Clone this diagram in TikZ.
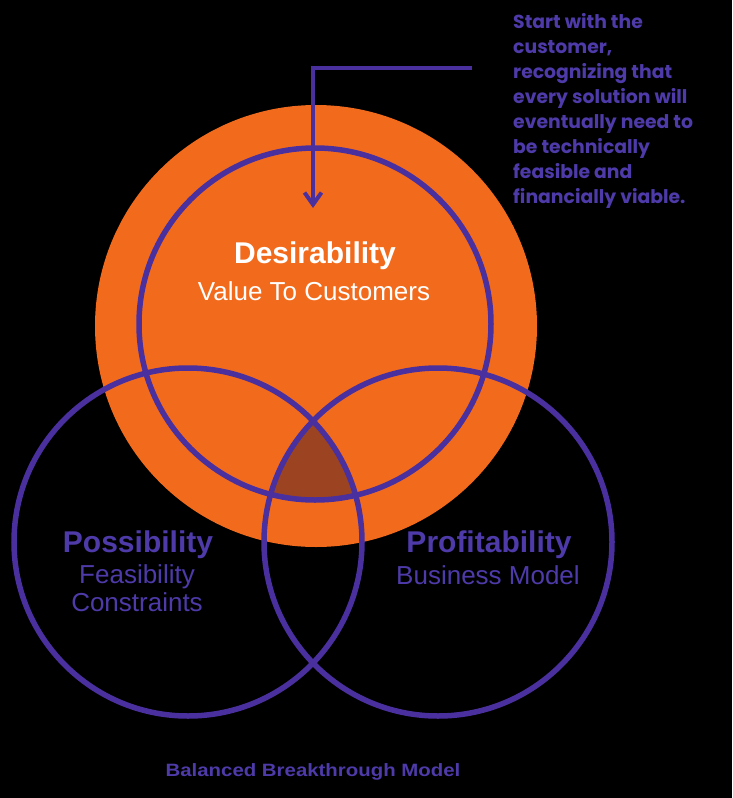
\documentclass[tikz,border=0pt]{standalone}
\usepackage{fontspec}
\setmainfont{Liberation Sans}
\newfontfamily\popfont{Poppins}
\usetikzlibrary{arrows.meta}
\definecolor{bgblack}{RGB}{0,0,0}
\definecolor{vorange}{RGB}{242,107,29}
\definecolor{vbrown}{RGB}{156,68,34}
\definecolor{vpurple}{RGB}{74,48,158}
\definecolor{vtext}{RGB}{78,58,168}
\tikzset{
  ring/.style={draw=vpurple, line width=5.5pt},
  lead/.style={draw=vpurple, line width=4pt, -{Straight Barb[length=12pt,width=17pt]}},
  headw/.style={text=white, font=\fontsize{30}{32}\selectfont\bfseries},
  subw/.style={text=white, font=\fontsize{26}{29}\selectfont},
  headp/.style={text=vtext, font=\fontsize{30}{32}\selectfont\bfseries},
  subp/.style={text=vtext, font=\fontsize{26}{28.5}\selectfont, align=center},
}
\begin{document}
\begin{tikzpicture}[x=1pt,y=-1pt]
\fill[bgblack] (0,0) rectangle (732,798);
\useasboundingbox (0,0) rectangle (732,798);
% orange disc
\fill[vorange] (316,326) circle[radius=221pt];
% triple intersection
\begin{scope}
  \clip (188,542) circle[radius=174pt];
  \clip (438,542) circle[radius=174pt];
  \fill[vbrown] (315,324) circle[radius=176pt];
\end{scope}
% rings
\draw[ring] (315,324) circle[radius=176pt];
\draw[ring] (188,542) circle[radius=174pt];
\draw[ring] (438,542) circle[radius=174pt];
% leader arrow
\coordinate (ls) at (472,68);
\coordinate (lc) at (313,68);
\coordinate (le) at (313,208);
\draw[lead] (ls) -- (lc) -- (le);
% labels
\node[headw] (des) at (315,256) {Desirability};
\node[subw] (val) at (314,291) {Value To Customers};
\node[headp] (pos) at (138,545) {Possibility};
\node[subp] (feas) at (137,588) {Feasibility\\Constraints};
\node[headp] (prof) at (489,545) {Profitability};
\node[subp] (bus) at (488,575) {Business Model};
\node[anchor=north west, inner sep=0pt, text=vtext, align=left,
      font=\popfont\fontsize{18.8}{25}\selectfont\bfseries] (note) at (513,13)
  {Start with the\\customer,\\recognizing that\\every solution will\\eventually need to\\be technically\\feasible and\\financially viable.};
\node[text=vtext, font=\fontsize{17}{20}\selectfont\bfseries] (title) at (313,772)
  {\scalebox{1.2}[1.05]{Balanced Breakthrough Model}};
\end{tikzpicture}
\end{document}
